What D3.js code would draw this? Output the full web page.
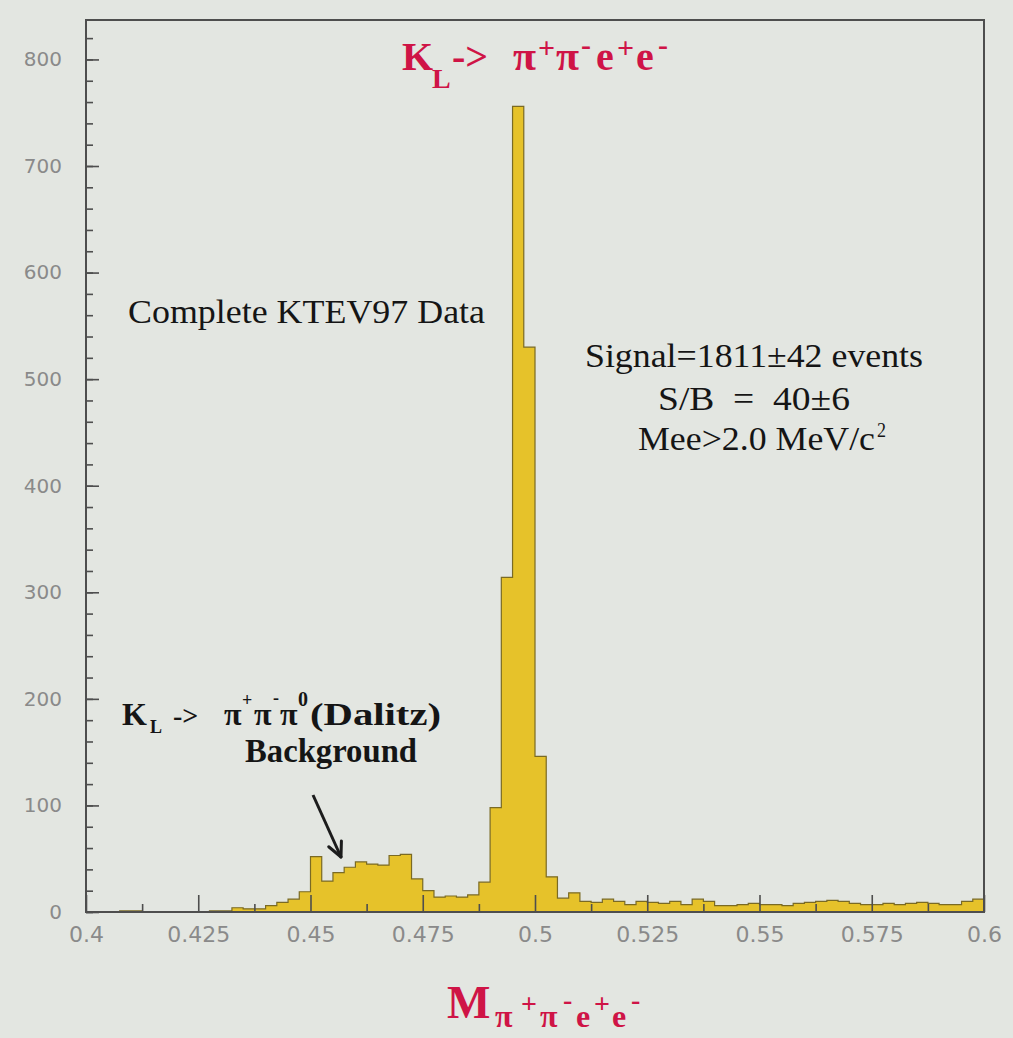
<!DOCTYPE html>
<html>
<head>
<meta charset="utf-8">
<script src="https://cdn.jsdelivr.net/npm/d3@7"></script>
<style>
  body { margin: 0; background: #e3e6e1; }
  svg { display: block; }
</style>
</head>
<body>
<svg id="chart" width="1013" height="1038"></svg>
<script>
// histogram: 80 bins of 0.0025 from 0.4 to 0.6
const binStart = 0.4;
const binWidth = 0.0025;
const counts = [
  0, 0, 0, 1, 1, 0, 0, 0, 0, 0, 0, 1, 1, 4, 3, 3, 6, 9, 12, 19,
  52, 29, 37, 42, 47, 45, 44, 53, 54, 31, 20, 14, 15, 14, 16, 28, 98, 314, 756,
  530, 146, 33, 13, 18, 10, 9, 12, 10, 7, 10, 9, 8, 10, 7, 12, 10, 6, 6, 7, 8,
  7, 7, 6, 8, 9, 10, 11, 10, 8, 7, 7, 8, 7, 8, 9, 8, 7, 7, 10, 12
];
const xTicks = [0.4, 0.425, 0.45, 0.475, 0.5, 0.525, 0.55, 0.575, 0.6];
const xTickLabels = ["0.4", "0.425", "0.45", "0.475", "0.5", "0.525", "0.55", "0.575", "0.6"];
const xMinorTicks = [0.4125, 0.4375, 0.4625, 0.4875, 0.5125, 0.5375, 0.5625, 0.5875];
const yTicks = [0, 100, 200, 300, 400, 500, 600, 700, 800];
const yMinorTicks = d3.range(0, 821, 20);

const red = "#cf1446";
const serif = "'Liberation Serif', 'Times New Roman', serif";

const svg = d3.select("#chart");
const plotL = 86, plotR = 984, plotT = 20, plotB = 912;

const x = d3.scaleLinear().domain([0.4, 0.6]).range([plotL, plotR]);
const y = d3.scaleLinear().domain([0, 837]).range([plotB, plotT]);

// histogram fill + outline
const pts = counts.map((c, i) => ({ x: binStart + i * binWidth, y: c }));
pts.push({ x: 0.6, y: counts[counts.length - 1] });

const area = d3.area()
  .x(d => x(d.x))
  .y0(y(0))
  .y1(d => y(d.y))
  .curve(d3.curveStepAfter);

const line = d3.line()
  .x(d => x(d.x))
  .y(d => y(d.y))
  .curve(d3.curveStepAfter);

svg.append("path")
  .datum(pts)
  .attr("d", area)
  .attr("fill", "#e6c22a");

svg.append("path")
  .datum(pts)
  .attr("d", line)
  .attr("fill", "none")
  .attr("stroke", "#7a6a24")
  .attr("stroke-width", 1.2);

// frame
svg.append("rect")
  .attr("x", plotL).attr("y", plotT)
  .attr("width", plotR - plotL).attr("height", plotB - plotT)
  .attr("fill", "none")
  .attr("stroke", "#4e4e4e")
  .attr("stroke-width", 2);

// y axis
const yAxis = svg.append("g")
  .attr("transform", `translate(${plotL},0)`)
  .call(d3.axisLeft(y).tickValues(yTicks).tickSizeInner(-13).tickSizeOuter(0).tickPadding(24));
svg.append("g")
  .attr("transform", `translate(${plotL},0)`)
  .call(d3.axisLeft(y).tickValues(yMinorTicks).tickSizeInner(-7).tickSizeOuter(0).tickFormat(""));

// x axis
const xAxis = svg.append("g")
  .attr("transform", `translate(0,${plotB})`)
  .call(d3.axisBottom(x).tickValues(xTicks).tickSizeInner(-17).tickSizeOuter(0).tickPadding(14)
    .tickFormat((d, i) => xTickLabels[i]));
svg.append("g")
  .attr("transform", `translate(0,${plotB})`)
  .call(d3.axisBottom(x).tickValues(xMinorTicks).tickSizeInner(-8).tickSizeOuter(0).tickFormat(""));

svg.selectAll(".domain").remove();
svg.selectAll(".tick line").attr("stroke", "#4e4e4e").attr("stroke-width", 1.6);
yAxis.selectAll("text")
  .attr("font-family", "'DejaVu Sans', sans-serif")
  .attr("font-size", 20)
  .attr("fill", "#8a8a8a");
xAxis.selectAll("text")
  .attr("font-family", "'DejaVu Sans', sans-serif")
  .attr("font-size", 22)
  .attr("fill", "#8a8a8a");

// helper for multi-piece labels
function pieces(parts, attrs) {
  const t = svg.append("text")
    .attr("font-family", serif)
    .attr("fill", attrs.fill)
    .attr("font-weight", attrs.weight || "normal");
  parts.forEach(p => {
    t.append("tspan")
      .attr("x", p[0]).attr("y", p[1])
      .attr("font-size", p[2])
      .text(p[3]);
  });
  return t;
}

// title
pieces([
  [402, 70, 40, "K"],
  [432, 88, 28, "L"],
  [452, 70, 40, "->"],
  [513, 70, 42, "π"],
  [538, 58, 30, "+"],
  [556, 70, 42, "π"],
  [581, 55, 30, "-"],
  [596, 70, 40, "e"],
  [617, 58, 30, "+"],
  [636, 70, 40, "e"],
  [658, 55, 30, "-"]
], { fill: red, weight: "bold" });

// x axis title
pieces([
  [447, 1018, 46, "M"],
  [495, 1027, 32, "π"],
  [521, 1013, 28, "+"],
  [540, 1027, 32, "π"],
  [563, 1009, 28, "-"],
  [576, 1027, 32, "e"],
  [594, 1013, 28, "+"],
  [612, 1027, 32, "e"],
  [631, 1009, 28, "-"]
], { fill: red, weight: "bold" });

// annotations
function label(txt, x0, yb, size, len, weight) {
  return svg.append("text")
    .attr("x", x0).attr("y", yb)
    .attr("font-family", serif)
    .attr("font-size", size)
    .attr("font-weight", weight || "normal")
    .attr("fill", "#151515")
    .attr("textLength", len)
    .attr("lengthAdjust", "spacingAndGlyphs")
    .style("white-space", "pre")
    .text(txt);
}

label("Complete KTEV97 Data", 128, 323, 33, 357);
label("Signal=1811±42 events", 585, 367, 33, 338);
label("S/B  =  40±6", 658, 410, 33, 192);
label("Mee>2.0 MeV/c", 638, 450, 33, 237);
label("2", 877, 437, 20, 9);

// Dalitz background label
pieces([
  [122, 725, 32, "K"],
  [150, 733, 18, "L"],
  [173, 725, 28, "->"],
  [224, 725, 32, "π"],
  [242, 706, 18, "+"],
  [254, 725, 32, "π"],
  [273, 704, 18, "-"],
  [280, 725, 32, "π"],
  [298, 706, 20, "0"]
], { fill: "#151515", weight: "bold" });
label("(Dalitz)", 310, 725, 31, 131, "bold");
label("Background", 245, 762, 33, 172, "bold");

// arrow
const a0 = [313, 795], a1 = [341, 857];
svg.append("line")
  .attr("x1", a0[0]).attr("y1", a0[1])
  .attr("x2", a1[0]).attr("y2", a1[1])
  .attr("stroke", "#1c1c1c").attr("stroke-width", 3);
const ang = Math.atan2(a1[1] - a0[1], a1[0] - a0[0]);
[0.45, -0.45].forEach(da => {
  svg.append("line")
    .attr("x1", a1[0]).attr("y1", a1[1])
    .attr("x2", a1[0] - 16 * Math.cos(ang + da))
    .attr("y2", a1[1] - 16 * Math.sin(ang + da))
    .attr("stroke", "#1c1c1c").attr("stroke-width", 3)
    .attr("stroke-linecap", "round");
});
</script>
</body>
</html>
